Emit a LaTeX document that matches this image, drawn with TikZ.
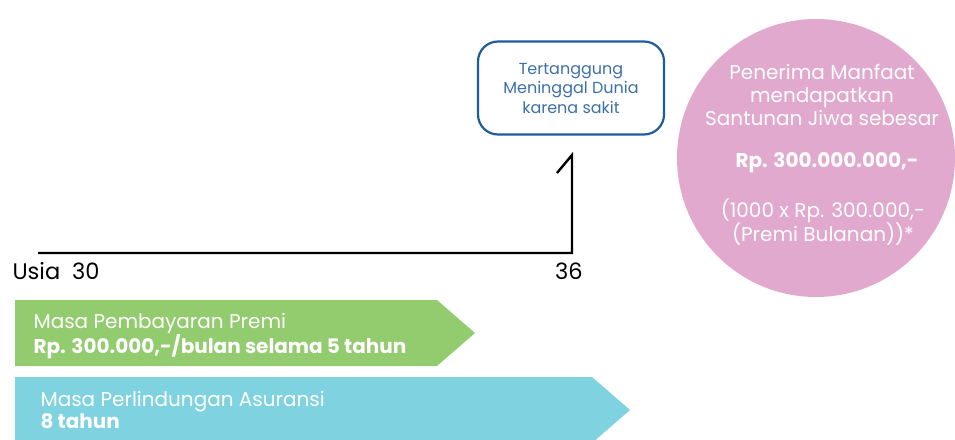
\documentclass[tikz,border=0pt]{standalone}
\usepackage{fontspec}
\setmainfont{Poppins}
\definecolor{boxblue}{HTML}{1F5C9C}
\definecolor{textblue}{HTML}{3C6FA8}
\definecolor{paygreen}{HTML}{93CB6F}
\definecolor{covercyan}{HTML}{7FD2DF}
\definecolor{benefitpink}{HTML}{E1A9CD}
\begin{document}
\begin{tikzpicture}[x=1pt,y=-1pt,
	eventbox/.style={draw=boxblue,line width=2.2pt,rounded corners=20pt,minimum width=186pt,minimum height=93pt,align=center,text=textblue,font=\fontsize{16}{19.5}\selectfont},
	benefit/.style={circle,fill=benefitpink,minimum size=278pt,inner sep=0pt},
	bartext/.style={anchor=west,align=left,text=white,font=\fontsize{20}{22}\selectfont},
	agelabel/.style={font=\fontsize{22.5}{26}\selectfont}]
	\useasboundingbox (0,0) rectangle (955,439);
	% timeline
	\coordinate (start) at (38,253);
	\coordinate (corner) at (572,253);
	\coordinate (top) at (572,155);
	\coordinate (tick) at (557,173);
	\draw[line width=2.4pt] (start) -- (corner) -- (top) -- (tick);
	\node[agelabel,anchor=base west] (usia) at (9,279) {Usia\ \ 30};
	\node[agelabel,anchor=base] (age) at (569,279) {36};
	% event
	\node[eventbox] (event) at (571,88) {Tertanggung\\Meninggal Dunia\\karena sakit};
	% benefit
	\node[benefit] (circle) at (816,158) {};
	\node[text=white,align=center,font=\fontsize{20}{23}\selectfont] (benefittext) at (822,95) {Penerima Manfaat\\mendapatkan\\Santunan Jiwa sebesar};
	\node[text=white,font=\bfseries\fontsize{20}{23}\selectfont] (amount) at (827,163) {Rp. 300.000.000,-};
	\node[text=white,align=center,font=\fontsize{20}{22}\selectfont] (formula) at (823,222) {(1000 x Rp. 300.000,-\\(Premi Bulanan))*};
	% bars
	\fill[paygreen] (15,300) -- (437,300) -- (475,333) -- (437,366) -- (15,366) -- cycle;
	\fill[covercyan] (15,377) -- (592,377) -- (630,410) -- (592,443) -- (15,443) -- cycle;
	\node[bartext] (pay) at (30,336) {Masa Pembayaran Premi\\\textbf{Rp. 300.000,-/bulan selama 5 tahun}};
	\node[bartext] (cover) at (37,410) {Masa Perlindungan Asuransi\\\textbf{8 tahun}};
\end{tikzpicture}
\end{document}
